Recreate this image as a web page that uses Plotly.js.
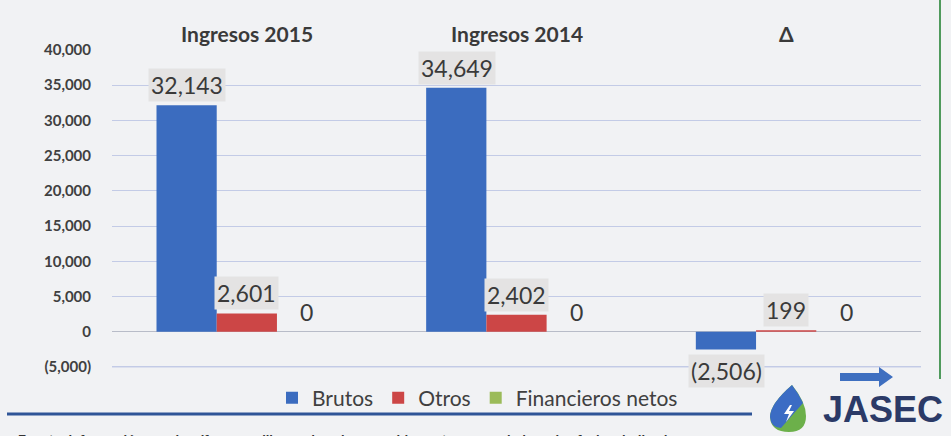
<!DOCTYPE html>
<html><head><meta charset="utf-8">
<script src="https://cdn.plot.ly/plotly-3.0.1.min.js"></script>
<style>html,body{margin:0;padding:0;background:#f1f2f4;}#chart{width:951px;height:436px;}</style>
</head><body><div id="chart"></div>
<script>
// ---- data ----
const categories = ["Ingresos 2015", "Ingresos 2014", "Δ"];
const seriesNames = ["Brutos", "Otros", "Financieros netos"];
const brutos = [32143, 34649, -2506];
const otros = [2601, 2402, 199];
const financieros = [0, 0, 0];
const tickVals = [-5000, 0, 5000, 10000, 15000, 20000, 25000, 30000, 35000, 40000];
const tickText = ["(5,000)", "0", "5,000", "10,000", "15,000", "20,000", "25,000", "30,000", "35,000", "40,000"];
const footnote = "Fuente: información propia, cifras en millones de colones, saldos netos acumulados a las fechas indicadas.";
const brand = "JASEC";

// ---- layout helpers ----
const WIDTH = 951, HEIGHT = 436;
const M = {l: 112, r: 30, t: 50, b: 62};
const PW = WIDTH - M.l - M.r, PH = HEIGHT - M.t - M.b;
const px = x => (x - M.l) / PW;
const py = y => (HEIGHT - M.b - y) / PH;
const colors = ["#3b6cbf", "#cc4646", "#9bbb59"];
const FONT = "Lato, 'Open Sans', sans-serif";
const GRID = "#c3cbe6";

function fmt(v) {
  const s = Math.abs(v).toLocaleString("en-US");
  return v < 0 ? "(" + s + ")" : s;
}

const allSeries = [brutos, otros, financieros];
const traces = allSeries.map((vals, i) => ({
  type: "bar", name: seriesNames[i], x: categories, y: vals,
  marker: {color: colors[i]}, hoverinfo: "skip"
}));

const annotations = [];
const barPx = 60;
allSeries.forEach((vals, i) => {
  vals.forEach((v, j) => {
    annotations.push({
      x: categories[j], y: v, xref: "x", yref: "y",
      text: fmt(v), showarrow: false,
      xshift: (i - 1) * barPx, yshift: v < 0 ? -22 : 20,
      font: {family: FONT, size: 23, color: "#3a3a3a"},
      bgcolor: v === 0 ? "rgba(0,0,0,0)" : "#e4e3e3", borderpad: 2
    });
  });
});
categories.forEach(c => {
  annotations.push({
    x: c, xref: "x", y: 1, yref: "paper", yshift: 31, showarrow: false,
    text: "<b>" + c + "</b>", font: {family: FONT, size: 21, color: "#3a3a3a"}
  });
});
annotations.push({
  x: px(821), xref: "paper", xanchor: "left", y: py(409), yref: "paper", yanchor: "middle",
  text: "<b>" + brand + "</b>", showarrow: false,
  font: {family: "'Liberation Sans', Arial, sans-serif", size: 36, color: "#2b3a67"}
});
annotations.push({
  x: px(16), xref: "paper", xanchor: "left", y: py(430), yref: "paper", yanchor: "top",
  text: "<b>" + footnote + "</b>", showarrow: false,
  font: {family: "'Liberation Sans', Arial, sans-serif", size: 13, color: "#333"}
});

const shapes = [
  {type: "line", xref: "paper", yref: "paper", x0: px(940), x1: px(940), y0: py(379), y1: py(-5),
   line: {color: "#4f9a5c", width: 2}},
  {type: "line", xref: "paper", yref: "paper", x0: px(7), x1: px(752), y0: py(414), y1: py(414),
   line: {color: "#2f5597", width: 3}},
  {type: "path", xref: "paper", yref: "paper", fillcolor: "#3e6fc0", line: {width: 0},
   path: "M" + px(840) + "," + py(373) + " L" + px(879) + "," + py(373) + " L" + px(879) + "," + py(367) +
     " L" + px(893) + "," + py(377) + " L" + px(879) + "," + py(387) + " L" + px(879) + "," + py(381) +
     " L" + px(840) + "," + py(381) + " Z"},
  // drop logo (green base + blue upper-left)
  {type: "path", xref: "paper", yref: "paper", fillcolor: "#6cb04a", line: {width: 0},
   path: "M" + px(792) + "," + py(385) + " Q" + px(770) + "," + py(404) + " " + px(770) + "," + py(417) +
     " Q" + px(771) + "," + py(432) + " " + px(789) + "," + py(432) +
     " Q" + px(806) + "," + py(432) + " " + px(806) + "," + py(416) +
     " Q" + px(806) + "," + py(402) + " " + px(792) + "," + py(385) + " Z"},
  {type: "path", xref: "paper", yref: "paper", fillcolor: "#3b6cc4", line: {width: 0},
   path: "M" + px(792) + "," + py(385) + " Q" + px(770) + "," + py(404) + " " + px(770) + "," + py(417) +
     " Q" + px(771) + "," + py(428) + " " + px(781) + "," + py(428) +
     " L" + px(803) + "," + py(403) + " Q" + px(799) + "," + py(394) + " " + px(792) + "," + py(385) + " Z"},
  {type: "path", xref: "paper", yref: "paper", fillcolor: "#ffffff", line: {width: 0},
   path: "M" + px(790) + "," + py(405) + " L" + px(784) + "," + py(414) + " L" + px(789) + "," + py(414) +
     " L" + px(786) + "," + py(422) + " L" + px(794) + "," + py(411) + " L" + px(789) + "," + py(411) +
     " L" + px(792) + "," + py(405) + " Z"},
  // reinforce the (5,000) gridline
  {type: "line", layer: "below", xref: "paper", yref: "y", x0: 0, x1: 1, y0: tickVals[0], y1: tickVals[0],
   line: {color: GRID, width: 1}}
];

const layout = {
  width: WIDTH, height: HEIGHT, margin: M,
  paper_bgcolor: "#f1f2f4", plot_bgcolor: "#f1f2f4",
  barmode: "group", bargap: 0.33, bargroupgap: 0,
  showlegend: true,
  legend: {orientation: "h", x: px(272), xanchor: "left", y: py(398), yanchor: "middle",
    font: {family: FONT, size: 21, color: "#404040"}, bgcolor: "rgba(0,0,0,0)", itemclick: false},
  xaxis: {showticklabels: false, showgrid: false, zeroline: false, showline: false, fixedrange: true},
  yaxis: {range: [-6000, 40000], tickvals: tickVals, ticktext: tickText, ticks: "",
    ticklabelstandoff: 20,
    tickfont: {family: FONT, size: 15, color: "#404040", weight: "bold"},
    showgrid: true, gridcolor: GRID, gridwidth: 1,
    zeroline: true, zerolinecolor: "#b8bcc8", zerolinewidth: 1, showline: false, fixedrange: true},
  annotations: annotations, shapes: shapes,
  font: {family: FONT}
};

Plotly.newPlot("chart", traces, layout, {displayModeBar: false, staticPlot: true});
</script></body></html>
